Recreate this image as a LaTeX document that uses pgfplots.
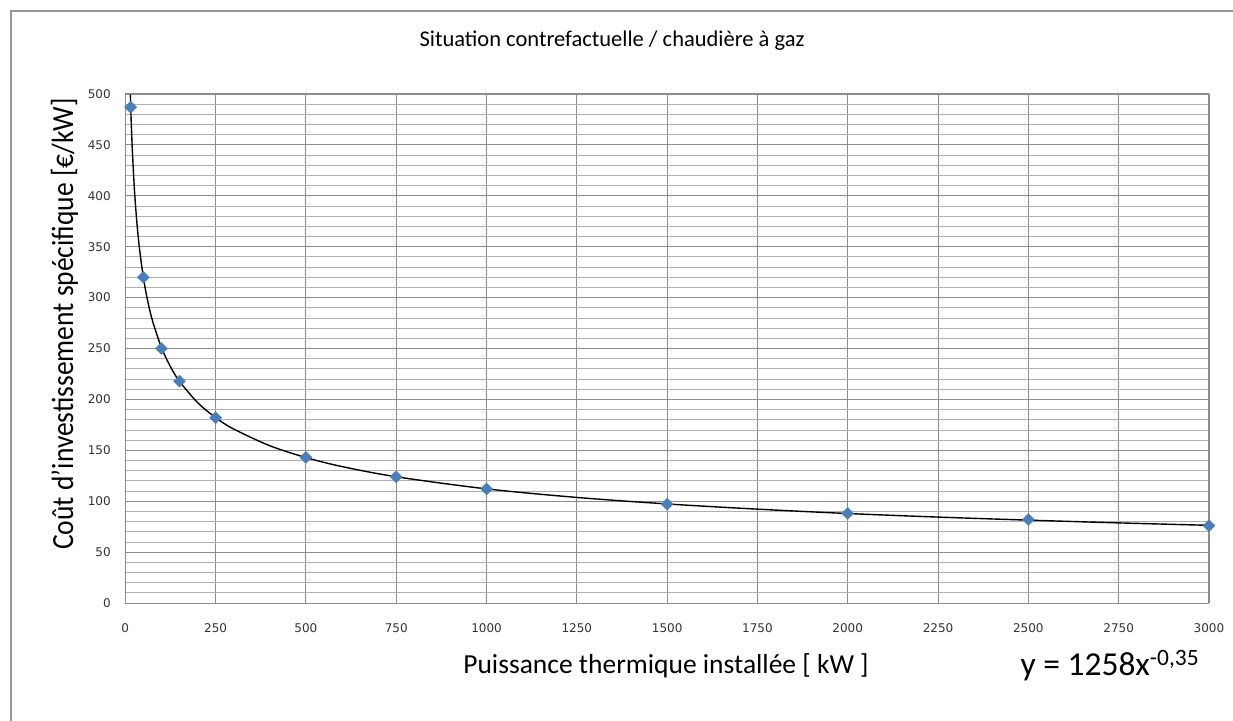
\documentclass[border=0pt]{standalone}
\usepackage{pgfplots}
\pgfplotsset{compat=1.18}
\usepackage{graphicx}
\usepackage{fontspec}
\setmainfont{Carlito}
\newfontfamily\tickfont{DejaVu Sans}
\definecolor{mk}{RGB}{74,126,187}
\definecolor{gmaj}{RGB}{140,140,140}
\definecolor{gmin}{RGB}{175,175,175}
\definecolor{frame}{RGB}{150,150,150}

\pgfplotstableread{
x y
15 487
50 320
100 250
150 218
250 182
500 143
750 124
1000 112
1500 97
2000 88
2500 82
3000 76
}\pts

\pgfplotstableread{
x y
14 499.5
16 476.7
18 457.4
20 441.0
25 407.7
30 382.5
35 362.4
40 345.9
50 319.9
60 300.1
75 277.6
100 251.0
125 232.1
150 217.8
200 196.9
250 182.1
300 170.9
400 154.5
500 142.9
600 134.0
750 124.0
1000 112.1
1250 103.7
1500 97.3
1750 92.2
2000 87.9
2250 84.4
2500 81.4
2750 78.7
3000 76.3
}\trend

\begin{document}
\begin{tikzpicture}[x=1pt,y=1pt]
\useasboundingbox (0,0) rectangle (1233,720);
\draw[frame, line width=1.5pt] (11,-5) -- (11,709) -- (1240,709);
\begin{axis}[
  at={(125.3pt,117pt)}, anchor=south west,
  scale only axis, width=1083.7pt, height=509pt,
  xmin=0, xmax=3000, ymin=0, ymax=500,
  xtick={0,250,...,3000}, ytick={0,50,...,500},
  minor y tick num=4,
  grid=both,
  major grid style={gmaj, line width=0.9pt},
  minor grid style={gmin, line width=0.8pt},
  axis line style={gmaj, line width=1pt},
  major tick length=0pt, minor tick length=0pt,
  tick label style={font=\tickfont\fontsize{12}{13}\selectfont, text=black!80},
  /pgf/number format/assume math mode=true,
  /pgf/number format/1000 sep={},
  xticklabel style={yshift=-17pt},
  yticklabel style={xshift=-11pt},
  clip=false,
]
\addplot[black, line width=1.4pt, smooth] table[x=x,y=y] {\trend};
\addplot[only marks, mark=diamond*, mark size=6pt,
  mark options={xscale=1.333, fill=mk, draw=mk}] table[x=x,y=y] {\pts};
\end{axis}
\node[anchor=center, font=\fontsize{22.5}{24}\selectfont] at (612,679) {Situation contrefactuelle / chaudière à gaz};
\node[anchor=base, font=\fontsize{27.5}{29}\selectfont] at (666,47) {Puissance thermique installée [ kW ]};
\node[anchor=base, rotate=90, font=\fontsize{27.5}{29}\selectfont] at (73,396) {\scalebox{1}[1.12]{Coût d'investissement spécifique [€/kW]}};
\node[anchor=base west, font=\fontsize{33.5}{35}\selectfont] at (1017,45) {y = 1258x\textsuperscript{-0,35}};
\end{tikzpicture}
\end{document}
